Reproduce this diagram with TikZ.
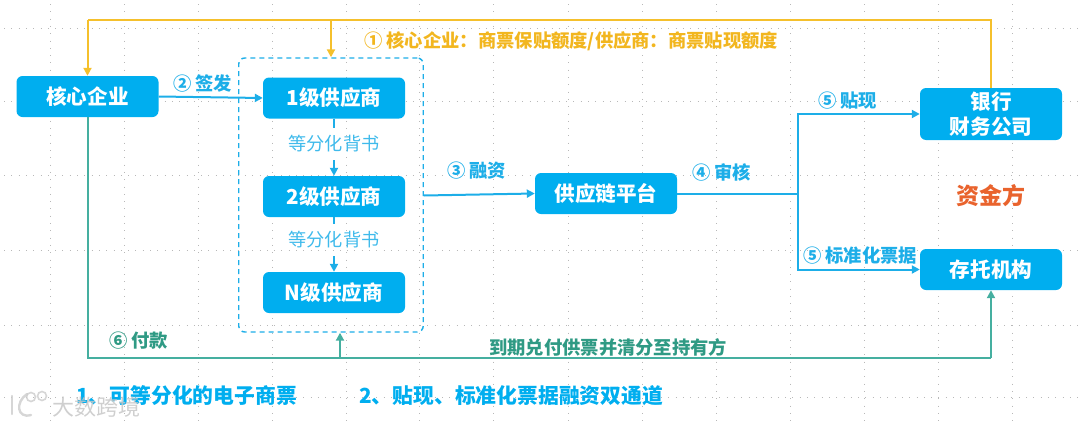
\documentclass[tikz,border=0pt]{standalone}
\usepackage{fontspec}
\setmainfont{Noto Sans CJK SC}
\usetikzlibrary{arrows.meta,positioning,calc}
\definecolor{boxc}{HTML}{00AEEF}
\definecolor{yel}{HTML}{F5C02C}
\definecolor{yeltxt}{HTML}{F2B61F}
\definecolor{grn}{HTML}{45AFA0}
\definecolor{grntxt}{HTML}{2F9A84}
\definecolor{cyl}{HTML}{1DAEE8}
\definecolor{org}{HTML}{E9632D}
\tikzset{
 x=1pt,y=-1pt,
 fbox/.style={draw=none,fill=boxc,rounded corners=6pt,text=white,font=\fontsize{20.6}{24}\selectfont\bfseries,minimum width=142pt,minimum height=41pt,inner sep=0pt,align=center},
 lab/.style={font=\fontsize{18.3}{22}\selectfont\bfseries,inner sep=0pt,anchor=west},
 cylab/.style={lab,text=cyl},
 grnlab/.style={lab,text=grntxt},
 foot/.style={lab,text=boxc,font=\fontsize{20.8}{24}\selectfont\bfseries},
 split/.style={font=\fontsize{18.2}{22}\selectfont,text=cyl!85!white,inner sep=0pt,minimum height=32pt},
 conn/.style={line width=2pt,-{Triangle[width=8pt,length=8pt]}},
 plain/.style={line width=2pt,line join=miter},
 cyc/.style={conn,draw=cyl},
 ycon/.style={conn,draw=yel},
 gcon/.style={conn,draw=grn},
 griddot/.style={draw=black!28,line width=.6pt,dash pattern=on .8pt off 6.5pt},
}
\begin{document}
\begin{tikzpicture}
\useasboundingbox (0,0) rectangle (1080,426);
% faint background grid
\foreach \yy in {28,101,175,250,325,397} \draw[griddot] (4,\yy) -- (1080,\yy);
\foreach \xx in {50,124,198,272,346,419,493,568,642,716,790,864,938,1012} \draw[griddot] (\xx,4) -- (\xx,426);
% boxes
\node[fbox] (core) at (87.5,96.5) {核心企业};
\node[fbox] (s1) at (334,98) {1级供应商};
\node[fbox] (s2) at (334,196.5) {2级供应商};
\node[fbox] (sn) at (334,292.5) {N级供应商};
\node[fbox] (plat) at (606,193.5) {供应链平台};
\node[fbox,minimum height=52pt,font=\fontsize{20.6}{25}\selectfont\bfseries] (bank) at (991,114) {银行\\财务公司};
\node[fbox] (depo) at (991,269.5) {存托机构};
\node[draw=cyl,line width=1.4pt,dash pattern=on 5pt off 4pt,rounded corners=6pt,minimum width=184.5pt,minimum height=274pt,inner sep=0pt] (grp) at (331,195) {};
% labels
\node[split] (e1) at (334,144) {等分化背书};
\node[split] (e2) at (334,240) {等分化背书};
\node[lab,text=yeltxt] (l1) at (364,41) {① 核心企业：商票保贴额度/供应商：商票贴现额度};
\node[cylab] (l2) at (173,83) {② 签发};
\node[cylab] (l3) at (447,171) {③ 融资};
\node[cylab] (l4) at (692,172) {④ 审核};
\node[cylab] (l5) at (818,101) {⑤ 贴现};
\node[cylab] (l5b) at (803,256) {⑤ 标准化票据};
\node[grnlab] (l6) at (109,341) {⑥ 付款};
\node[grnlab] (l7) at (489,347) {到期兑付供票并清分至持有方};
\node[font=\fontsize{23}{27}\selectfont\bfseries,text=org,inner sep=0pt] (fund) at (991,196) {资金方};
\node[foot] (f1) at (76,396) {1、可等分化的电子商票};
\node[foot] (f2) at (359,396) {2、贴现、标准化票据融资双通道};
% helper coordinates
\coordinate (ytop) at (0,19.5);
\coordinate (gbot) at (0,358);
\coordinate (bus) at (798,193.5);
% yellow
\draw[plain,draw=yel] (bank.north) -- (bank.north |- ytop) -- (core.north |- ytop);
\draw[ycon] (core.north |- ytop) -- (core.north);
\draw[ycon] (grp.north |- ytop) -- (grp.north);
% cyan
\draw[cyc] (core.east) -- (s1.west);
\draw[plain,draw=cyl] (s1.south) -- (e1.north);
\draw[cyc] (e1.south) -- (s2.north);
\draw[plain,draw=cyl] (s2.south) -- (e2.north);
\draw[cyc] (e2.south) -- (sn.north);
\draw[cyc] (grp.east |- plat.west) ++(0,2) -- (plat.west);
\draw[plain,draw=cyl] (plat.east) -- (bus);
\draw[cyc] (bus) |- (bank.west);
\draw[cyc] (bus) |- (depo.west);
% green
\draw[plain,draw=grn] (core.south) -- (core.south |- gbot) -- (depo.south |- gbot);
\draw[gcon] (depo.south |- gbot) -- (depo.south);
\coordinate (gbr) at ($(grp.south)+(9,26)$);
\draw[gcon] (gbr) -- (gbr |- grp.south);
% watermark
\begin{scope}[draw=black!20,line width=2.4pt,line cap=round,opacity=.8]
\draw (12,396) -- (12,414);
\draw (27,394) .. controls (15,402) and (17,419) .. (31,415);
\draw[line width=1.6pt] (31,397) circle (4.5);
\draw[line width=1.6pt] (42,396) circle (4.5);
\end{scope}
\node[font=\fontsize{22}{26}\selectfont,text=black!22,inner sep=0pt,anchor=west,opacity=.85] (wm) at (52,407) {大数跨境};
\end{tikzpicture}
\end{document}
